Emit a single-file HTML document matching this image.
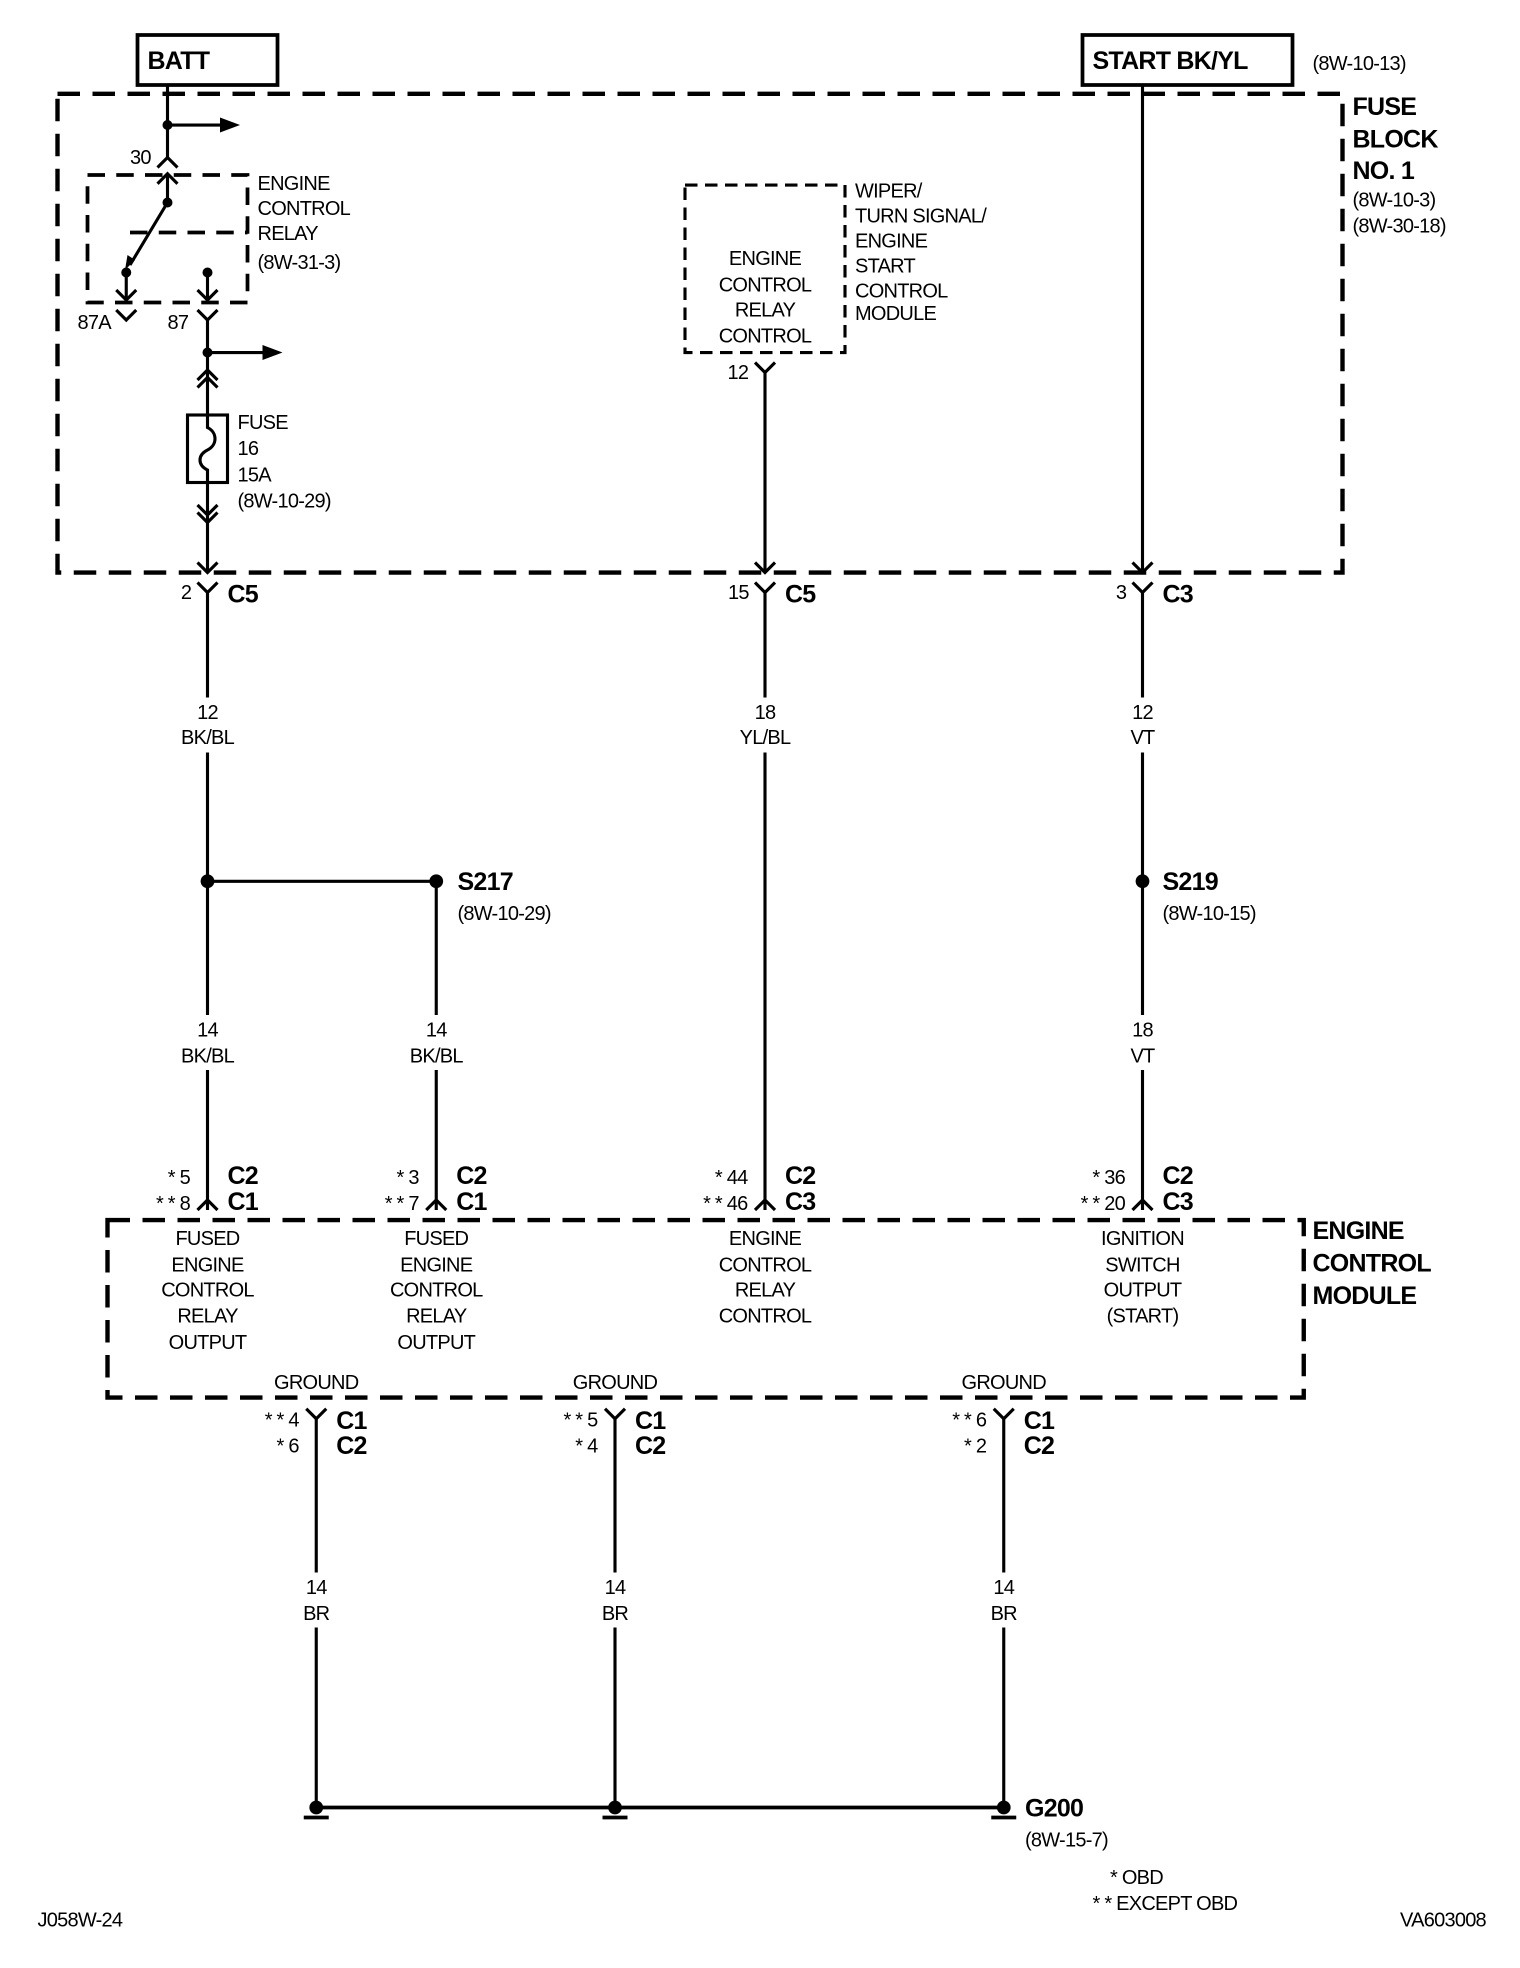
<!DOCTYPE html>
<html><head><meta charset="utf-8"><style>
html,body{margin:0;padding:0;background:#fff;}
svg{display:block;}
text{font-family:"Liberation Sans Narrow","Liberation Sans",sans-serif;font-size:16px;fill:#000;letter-spacing:-0.6px;}
.b{font-weight:bold;font-size:20px;}
.m{text-anchor:middle;}
.e{text-anchor:end;}
</style></head><body>
<svg width="1520" height="1968" viewBox="0 0 1216 1574.4" xmlns="http://www.w3.org/2000/svg">
<g fill="none" stroke="#000" stroke-width="2.5">
<rect x="110" y="28" width="112" height="40" stroke-width="3"/>
<rect x="866" y="28" width="168" height="40" stroke-width="3"/>
<rect x="46" y="75" width="1028" height="383" stroke-width="3.5" stroke-dasharray="18 10"/>
<rect x="70" y="140" width="128" height="102" stroke-width="3" stroke-dasharray="14 9"/>
<line x1="104" y1="186" x2="198" y2="186" stroke-width="3" stroke-dasharray="14 9"/>
<rect x="548" y="148" width="128" height="134" stroke-dasharray="10 6"/>
<rect x="86" y="976" width="957" height="142" stroke-width="3.5" stroke-dasharray="18 10"/>
<line x1="134" y1="68" x2="134" y2="126"/>
<line x1="134" y1="100" x2="178" y2="100"/>
<polyline points="126,134 134,126 142,134"/>
<polyline points="126,147 134,139 142,147"/>
<line x1="134" y1="140" x2="134" y2="162"/>
<line x1="134" y1="162" x2="104" y2="212"/>
<line x1="101" y1="218" x2="101" y2="240"/>
<polyline points="93,232 101,240 109,232"/>
<polyline points="93,248 101,256 109,248"/>
<line x1="166" y1="218" x2="166" y2="240"/>
<polyline points="158,232 166,240 174,232"/>
<polyline points="158,248 166,256 174,248"/>
<line x1="166" y1="256" x2="166" y2="458"/>
<line x1="166" y1="282" x2="212" y2="282"/>
<polyline points="158,304 166,296 174,304"/>
<polyline points="158,310 166,302 174,310"/>
<rect x="150" y="332" width="32" height="54" fill="#fff"/>
<path d="M166 332 V342 C174 346 174 356 166 360 C158 364 158 372 166 376 V386"/>
<polyline points="158,404 166,412 174,404"/>
<polyline points="158,410 166,418 174,410"/>
<polyline points="158,450 166,458 174,450"/>
<polyline points="604,290 612,298 620,290"/>
<line x1="612" y1="298" x2="612" y2="458"/>
<polyline points="604,450 612,458 620,450"/>
<line x1="914" y1="68" x2="914" y2="458"/>
<polyline points="906,450 914,458 922,450"/>
<polyline points="158,466 166,474 174,466"/><line x1="166" y1="474" x2="166" y2="968"/>
<polyline points="604,466 612,474 620,466"/><line x1="612" y1="474" x2="612" y2="968"/>
<polyline points="906,466 914,474 922,466"/><line x1="914" y1="474" x2="914" y2="968"/>
<line x1="166" y1="705" x2="349" y2="705"/>
<line x1="349" y1="705" x2="349" y2="968"/>
<polyline points="158,968 166,960 174,968"/>
<polyline points="341,968 349,960 357,968"/>
<polyline points="604,968 612,960 620,968"/>
<polyline points="906,968 914,960 922,968"/>
<polyline points="245,1127 253,1135 261,1127"/><line x1="253" y1="1135" x2="253" y2="1446"/>
<polyline points="484,1127 492,1135 500,1127"/><line x1="492" y1="1135" x2="492" y2="1446"/>
<polyline points="795,1127 803,1135 811,1127"/><line x1="803" y1="1135" x2="803" y2="1446"/>
<line x1="253" y1="1446" x2="803" y2="1446" stroke-width="3"/>
<line x1="243" y1="1454" x2="263" y2="1454" stroke-width="3"/>
<line x1="482" y1="1454" x2="502" y2="1454" stroke-width="3"/>
<line x1="793" y1="1454" x2="813" y2="1454" stroke-width="3"/>
</g>
<g fill="#fff">
<rect x="136" y="558" width="60" height="44"/><rect x="582" y="558" width="60" height="44"/><rect x="884" y="558" width="60" height="44"/>
<rect x="136" y="812" width="60" height="44"/><rect x="319" y="812" width="60" height="44"/><rect x="884" y="812" width="60" height="44"/>
<rect x="223" y="1258" width="60" height="44"/><rect x="462" y="1258" width="60" height="44"/><rect x="773" y="1258" width="60" height="44"/>
</g>
<g fill="#000">
<polygon points="176,94 192,100 176,106"/>
<polygon points="210,276 226,282 210,288"/>
<polygon points="100,216 102,204 108,208"/>
<circle cx="134" cy="100" r="4"/><circle cx="134" cy="162" r="4"/>
<circle cx="101" cy="218" r="4"/><circle cx="166" cy="218" r="4"/>
<circle cx="166" cy="282" r="4"/>
<circle cx="166" cy="705" r="5.5"/><circle cx="349" cy="705" r="5.5"/><circle cx="914" cy="705" r="5.5"/>
<circle cx="253" cy="1446" r="5.5"/><circle cx="492" cy="1446" r="5.5"/><circle cx="803" cy="1446" r="5.5"/>
</g>
<text class="b" x="118" y="55">BATT</text>
<text class="b" x="874" y="55">START BK/YL</text>
<text x="1050" y="56">(8W-10-13)</text>
<text class="b" x="1082" y="92">FUSE</text>
<text class="b" x="1082" y="118">BLOCK</text>
<text class="b" x="1082" y="143">NO. 1</text>
<text x="1082" y="165">(8W-10-3)</text>
<text x="1082" y="186">(8W-30-18)</text>
<text x="104" y="131">30</text>
<text x="206" y="152">ENGINE</text><text x="206" y="172">CONTROL</text><text x="206" y="192">RELAY</text><text x="206" y="215">(8W-31-3)</text>
<text x="62" y="263">87A</text><text x="134" y="263">87</text>
<text x="190" y="343">FUSE</text><text x="190" y="364">16</text><text x="190" y="385">15A</text><text x="190" y="406">(8W-10-29)</text>
<text class="m" x="612" y="212">ENGINE</text><text class="m" x="612" y="233">CONTROL</text><text class="m" x="612" y="253">RELAY</text><text class="m" x="612" y="274">CONTROL</text>
<text x="684" y="158">WIPER/</text><text x="684" y="178">TURN SIGNAL/</text><text x="684" y="198">ENGINE</text><text x="684" y="218">START</text><text x="684" y="238">CONTROL</text><text x="684" y="256">MODULE</text>
<text x="582" y="303">12</text>
<text class="e" x="153" y="479">2</text><text class="b" x="182" y="482">C5</text>
<text class="e" x="599" y="479">15</text><text class="b" x="628" y="482">C5</text>
<text class="e" x="901" y="479">3</text><text class="b" x="930" y="482">C3</text>
<text class="m" x="166" y="575">12</text><text class="m" x="166" y="595">BK/BL</text>
<text class="m" x="612" y="575">18</text><text class="m" x="612" y="595">YL/BL</text>
<text class="m" x="914" y="575">12</text><text class="m" x="914" y="595">VT</text>
<text class="b" x="366" y="712">S217</text><text x="366" y="736">(8W-10-29)</text>
<text class="b" x="930" y="712">S219</text><text x="930" y="736">(8W-10-15)</text>
<text class="m" x="166" y="829">14</text><text class="m" x="166" y="850">BK/BL</text>
<text class="m" x="349" y="829">14</text><text class="m" x="349" y="850">BK/BL</text>
<text class="m" x="914" y="829">18</text><text class="m" x="914" y="850">VT</text>
<text class="e" x="152" y="947">* 5</text><text class="e" x="152" y="968">* * 8</text><text class="b" x="182" y="947">C2</text><text class="b" x="182" y="968">C1</text>
<text class="e" x="335" y="947">* 3</text><text class="e" x="335" y="968">* * 7</text><text class="b" x="365" y="947">C2</text><text class="b" x="365" y="968">C1</text>
<text class="e" x="598" y="947">* 44</text><text class="e" x="598" y="968">* * 46</text><text class="b" x="628" y="947">C2</text><text class="b" x="628" y="968">C3</text>
<text class="e" x="900" y="947">* 36</text><text class="e" x="900" y="968">* * 20</text><text class="b" x="930" y="947">C2</text><text class="b" x="930" y="968">C3</text>
<text class="b" x="1050" y="991">ENGINE</text><text class="b" x="1050" y="1017">CONTROL</text><text class="b" x="1050" y="1043">MODULE</text>
<text class="m" x="166" y="996">FUSED</text><text class="m" x="166" y="1017">ENGINE</text><text class="m" x="166" y="1037">CONTROL</text><text class="m" x="166" y="1058">RELAY</text><text class="m" x="166" y="1079">OUTPUT</text>
<text class="m" x="349" y="996">FUSED</text><text class="m" x="349" y="1017">ENGINE</text><text class="m" x="349" y="1037">CONTROL</text><text class="m" x="349" y="1058">RELAY</text><text class="m" x="349" y="1079">OUTPUT</text>
<text class="m" x="612" y="996">ENGINE</text><text class="m" x="612" y="1017">CONTROL</text><text class="m" x="612" y="1037">RELAY</text><text class="m" x="612" y="1058">CONTROL</text>
<text class="m" x="914" y="996">IGNITION</text><text class="m" x="914" y="1017">SWITCH</text><text class="m" x="914" y="1037">OUTPUT</text><text class="m" x="914" y="1058">(START)</text>
<text class="m" x="253" y="1111">GROUND</text><text class="m" x="492" y="1111">GROUND</text><text class="m" x="803" y="1111">GROUND</text>
<text class="e" x="239" y="1141">* * 4</text><text class="e" x="239" y="1162">* 6</text><text class="b" x="269" y="1143">C1</text><text class="b" x="269" y="1163">C2</text>
<text class="e" x="478" y="1141">* * 5</text><text class="e" x="478" y="1162">* 4</text><text class="b" x="508" y="1143">C1</text><text class="b" x="508" y="1163">C2</text>
<text class="e" x="789" y="1141">* * 6</text><text class="e" x="789" y="1162">* 2</text><text class="b" x="819" y="1143">C1</text><text class="b" x="819" y="1163">C2</text>
<text class="m" x="253" y="1275">14</text><text class="m" x="253" y="1296">BR</text>
<text class="m" x="492" y="1275">14</text><text class="m" x="492" y="1296">BR</text>
<text class="m" x="803" y="1275">14</text><text class="m" x="803" y="1296">BR</text>
<text class="b" x="820" y="1453">G200</text><text x="820" y="1477">(8W-15-7)</text>
<text x="888" y="1507">* OBD</text><text x="874" y="1528">* * EXCEPT OBD</text>
<text x="30" y="1541">J058W-24</text><text x="1120" y="1541">VA603008</text>
</svg>
</body></html>
